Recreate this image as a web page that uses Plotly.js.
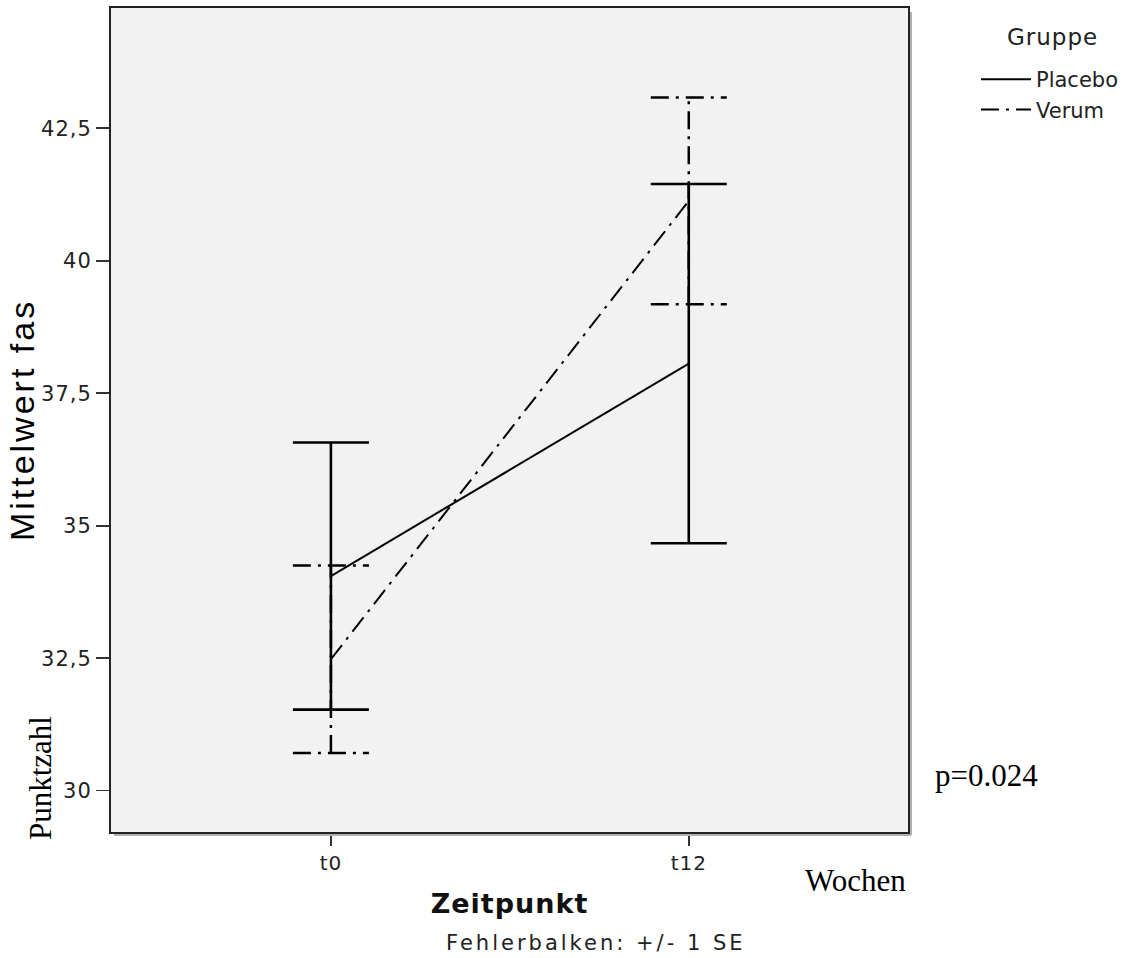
<!DOCTYPE html>
<html>
<head>
<meta charset="utf-8">
<script src="https://cdn.plot.ly/plotly-3.0.1.min.js"></script>
<style>
html,body{margin:0;padding:0;background:#fff;}
#chart{width:1133px;height:958px;}
#chart .xtick text, #chart .ytick text { letter-spacing: 1px; }
#chart .g-ytitle text { letter-spacing: 3px; }
#chart .g-xtitle text { letter-spacing: 1px; }
#chart .sans-spaced text { letter-spacing: 3px; }
</style>
</head>
<body>
<div id="chart"></div>
<script>
// ---- data ----
var timepoints = ["t0", "t12"];
var placeboMean = [34.05, 38.06];
var placeboSE   = [2.52, 3.39];
var verumMean   = [32.48, 41.13];
var verumSE     = [1.77, 1.95];
var yTickVals   = [30, 32.5, 35, 37.5, 40, 42.5];

var xIdx = timepoints.map(function(_, i){ return i; });
var xRange = [-0.6145, 1.6126];
var yRange = [29.22, 44.77];
var plotWidthPx = 1133 - 111 - 225;
var whiskerHalfPx = 38;
var halfW = whiskerHalfPx * (xRange[1] - xRange[0]) / plotWidthPx;
var verumDash = "18px,7px,3px,7px";

var traces = [];

// Verum error bars (dash-dot), drawn as lines through the axes
var vx = [], vy = [];
for (var i = 0; i < timepoints.length; i++) {
  var lo = verumMean[i] - verumSE[i], hi = verumMean[i] + verumSE[i];
  vx.push(xIdx[i], xIdx[i], null);
  vy.push(lo, hi, null);
  vx.push(xIdx[i] - halfW, xIdx[i] + halfW, null);
  vy.push(hi, hi, null);
  vx.push(xIdx[i] - halfW, xIdx[i] + halfW, null);
  vy.push(lo, lo, null);
}
traces.push({
  x: vx, y: vy, mode: "lines", type: "scatter",
  line: {color: "#000", width: 2.5, dash: verumDash},
  showlegend: false, hoverinfo: "skip"
});

// Placebo (solid) with error bars
traces.push({
  x: xIdx, y: placeboMean, name: "Placebo", mode: "lines", type: "scatter",
  line: {color: "#000", width: 2},
  error_y: {type: "data", array: placeboSE, visible: true, color: "#000", thickness: 2.6, width: whiskerHalfPx}
});

// Verum (dash-dot)
traces.push({
  x: xIdx, y: verumMean, name: "Verum", mode: "lines", type: "scatter",
  line: {color: "#000", width: 2, dash: verumDash}
});

var serif = {family: "Liberation Serif, Times New Roman, serif", size: 31, color: "#000"};

var layout = {
  width: 1133, height: 958,
  margin: {l: 111, r: 225, t: 8, b: 126},
  paper_bgcolor: "#ffffff",
  plot_bgcolor: "#f2f2f2",
  separators: ",.",
  font: {family: "DejaVu Sans, Verdana, sans-serif", color: "#222"},
  xaxis: {
    range: xRange, tickvals: xIdx, ticktext: timepoints,
    showgrid: false, zeroline: false,
    showline: true, mirror: true, linecolor: "#222", linewidth: 2,
    ticks: "outside", ticklen: 12, tickwidth: 1.6, tickcolor: "#333",
    tickfont: {size: 20, color: "#222"},
    title: {text: "Zeitpunkt", font: {size: 27, color: "#111", family: "DejaVu Sans, Verdana, sans-serif", weight: "bold"}, standoff: 20}
  },
  yaxis: {
    range: yRange, tickvals: yTickVals,
    showgrid: false, zeroline: false,
    showline: true, mirror: true, linecolor: "#222", linewidth: 2,
    ticks: "outside", ticklen: 13, tickwidth: 1.6, tickcolor: "#333",
    tickfont: {size: 21, color: "#222"},
    title: {text: "Mittelwert fas", font: {size: 34, color: "#000", family: "Liberation Sans, Arial, sans-serif"}, standoff: 0}
  },
  showlegend: true,
  legend: {
    x: (976 - 111) / 797, xanchor: "left", y: 0.9381, yanchor: "top",
    bgcolor: "rgba(0,0,0,0)",
    font: {size: 21, color: "#222"},
    itemwidth: 50,
    tracegroupgap: 0
  },
  shapes: [
    {type: "line", xref: "paper", yref: "paper", x0: 1 + 3 / 797, x1: 1 + 3 / 797, y0: -3 / 824, y1: 1 - 4 / 824,
     line: {color: "#b0b0b0", width: 2}},
    {type: "line", xref: "paper", yref: "paper", x0: 3 / 797, x1: 1 + 3 / 797, y0: -3 / 824, y1: -3 / 824,
     line: {color: "#b0b0b0", width: 2}}
  ],
  annotations: [
    {text: "Gruppe", xref: "paper", yref: "paper", x: (1052 - 111) / 797, y: (832 - 37) / 824,
     xanchor: "center", yanchor: "middle", showarrow: false, font: {size: 23, color: "#222"}},
    {text: "Fehlerbalken: +/- 1 SE", xref: "paper", yref: "paper", x: (596 - 111) / 797, y: -(943 - 832) / 824,
     xanchor: "center", yanchor: "middle", showarrow: false, font: {size: 21, color: "#222"}},
    {text: "Wochen", xref: "paper", yref: "paper", x: (908 - 111) / 797, y: -(880 - 832) / 824,
     xanchor: "right", yanchor: "middle", showarrow: false, font: serif},
    {text: "p=0.024", xref: "paper", yref: "paper", x: (933 - 111) / 797, y: (832 - 775) / 824,
     xanchor: "left", yanchor: "middle", showarrow: false, font: serif},
    {text: "Punktzahl", xref: "paper", yref: "paper", x: (40 - 111) / 797, y: (832 - 778) / 824,
     xanchor: "center", yanchor: "middle", showarrow: false, textangle: -90, font: serif}
  ]
};

Plotly.newPlot("chart", traces, layout, {displayModeBar: false, staticPlot: true}).then(function(gd){
  var anns = gd.querySelectorAll(".annotation");
  [0, 1].forEach(function(k){ if (anns[k]) anns[k].classList.add("sans-spaced"); });
  var t0 = anns[0] && anns[0].querySelector("text"); if (t0) t0.style.letterSpacing = "1px";
});
</script>
</body>
</html>
